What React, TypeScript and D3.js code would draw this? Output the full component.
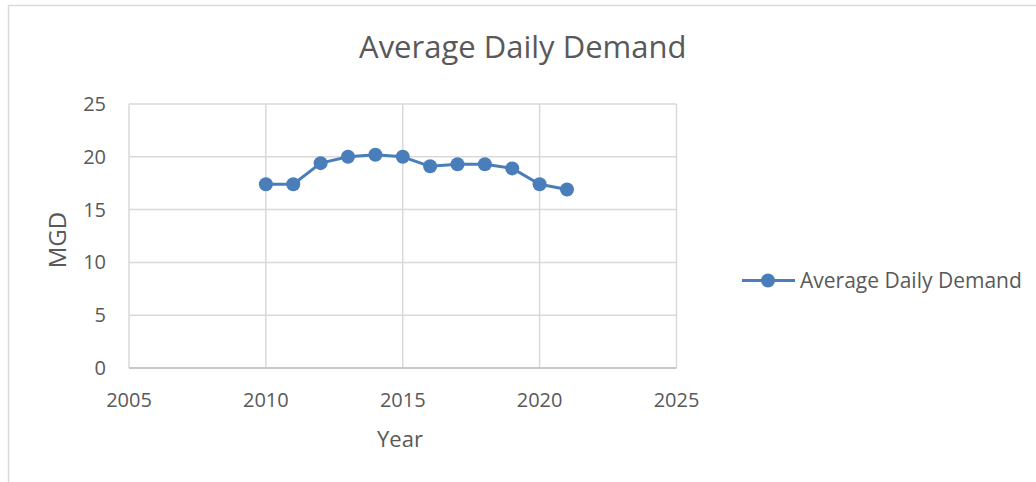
import React from 'react';
import * as d3 from 'd3';

// 연도별 평균 일일 수요 (MGD)
const years = [2010, 2011, 2012, 2013, 2014, 2015, 2016, 2017, 2018, 2019, 2020, 2021];
const demand = [17.4, 17.4, 19.4, 20.0, 20.2, 20.0, 19.1, 19.3, 19.3, 18.9, 17.4, 16.9];
const xTicks = [2005, 2010, 2015, 2020, 2025];
const yTicks = [0, 5, 10, 15, 20, 25];

const TITLE = 'Average Daily Demand';
const SERIES = 'Average Daily Demand';

const W = 1036;
const H = 482;
const plot = { left: 129, right: 676.5, top: 104, bottom: 368 };

const BLUE = '#4a7ebb';
const GRID = '#d9d9d9';
const TEXT = '#595959';
const FONT = '"Open Sans", sans-serif';

const App: React.FC = () => {
  const x = d3.scaleLinear().domain([2005, 2025]).range([plot.left, plot.right]);
  const y = d3.scaleLinear().domain([0, 25]).range([plot.bottom, plot.top]);

  const line = d3
    .line<number>()
    .x((_, i) => x(years[i]))
    .y((d) => y(d));

  return (
    <svg
      width={W}
      height={H}
      style={{ position: 'absolute', left: 0, top: 0, background: '#fff', fontFamily: FONT }}
    >
      {/* 바깥 테두리 */}
      <line x1={8.5} x2={8.5} y1={5} y2={H} stroke={GRID} strokeWidth={1.5} />
      <line x1={8} x2={W} y1={5.5} y2={5.5} stroke={GRID} strokeWidth={1.5} />

      <text x={(plot.left + plot.right) / 2 + 120} y={58} textAnchor="middle" fontSize={31} fill={TEXT}>
        {TITLE}
      </text>

      {/* 그리드 */}
      {yTicks.map((t) => (
        <line key={'gy' + t} x1={plot.left} x2={plot.right} y1={y(t)} y2={y(t)} stroke={GRID} strokeWidth={1.5} />
      ))}
      {xTicks.map((t) => (
        <line key={'gx' + t} x1={x(t)} x2={x(t)} y1={plot.top} y2={plot.bottom} stroke={GRID} strokeWidth={1.5} />
      ))}
      <line x1={plot.left} x2={plot.right} y1={plot.bottom} y2={plot.bottom} stroke="#bfbfbf" strokeWidth={1.5} />

      {/* 축 라벨 */}
      {yTicks.map((t) => (
        <text key={'ly' + t} x={106} y={y(t)} dy="0.35em" textAnchor="end" fontSize={20} fill={TEXT}>
          {t}
        </text>
      ))}
      {xTicks.map((t) => (
        <text key={'lx' + t} x={x(t)} y={407} textAnchor="middle" fontSize={20} fill={TEXT}>
          {t}
        </text>
      ))}
      <text x={400} y={447} textAnchor="middle" fontSize={22} fill={TEXT}>
        Year
      </text>
      <text
        transform={`translate(66,240) rotate(-90)`}
        textAnchor="middle"
        fontSize={24}
        fill={TEXT}
      >
        MGD
      </text>

      {/* 시리즈 */}
      <path d={line(demand) ?? ''} fill="none" stroke={BLUE} strokeWidth={3} strokeLinejoin="round" />
      {demand.map((d, i) => (
        <circle key={years[i]} cx={x(years[i])} cy={y(d)} r={7} fill={BLUE} />
      ))}

      {/* 범례 */}
      <line x1={742} x2={795} y1={280.5} y2={280.5} stroke={BLUE} strokeWidth={3} />
      <circle cx={768} cy={280.5} r={7} fill={BLUE} />
      <text x={800} y={288} fontSize={21} fill={TEXT}>
        {SERIES}
      </text>
    </svg>
  );
};

export default App;
